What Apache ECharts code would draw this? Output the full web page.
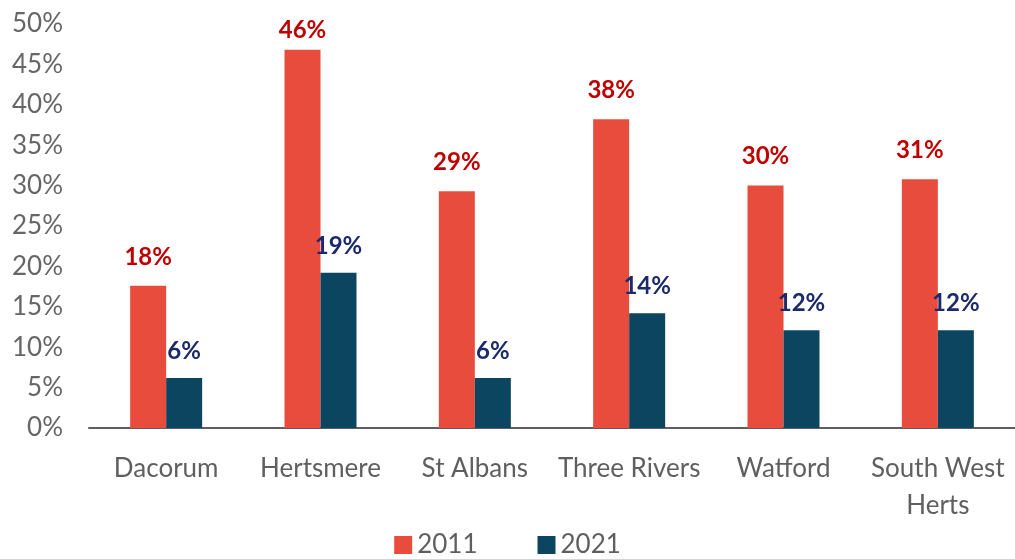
<!DOCTYPE html>
<html>
<head>
<meta charset="utf-8">
<script src="https://cdn.jsdelivr.net/npm/echarts@6/dist/echarts.min.js"></script>
<style>
  html, body { margin: 0; padding: 0; background: #fff; }
  #chart { width: 1015px; height: 559px; }
</style>
</head>
<body>
<div id="chart"></div>
<script>
var districts = ['Dacorum', 'Hertsmere', 'St Albans', 'Three Rivers', 'Watford', 'South West\nHerts'];
var values2011 = [17.6, 46.8, 29.3, 38.2, 30.0, 30.8];
var values2021 = [6.2, 19.2, 6.2, 14.2, 12.1, 12.1];
var labels2011 = ['18%', '46%', '29%', '38%', '30%', '31%'];
var labels2021 = ['6%', '19%', '6%', '14%', '12%', '12%'];
var yTicks = [0, 5, 10, 15, 20, 25, 30, 35, 40, 45, 50];

var chart = echarts.init(document.getElementById('chart'), null, { renderer: 'canvas' });

var fontFam = 'Lato, "Open Sans", sans-serif';

// the tallest bar's label sits a bit closer, it would run off the top otherwise
var data2011 = values2011.map(function (v, i) {
  return i === 1 ? { value: v, label: { distance: 8 } } : v;
});

chart.setOption({
  animation: false,
  textStyle: { fontFamily: fontFam },
  grid: { left: 89, right: 0, top: 24, bottom: 131 },
  legend: {
    bottom: -4,
    left: 'center',
    itemWidth: 18,
    itemHeight: 18,
    itemGap: 60,
    icon: 'rect',
    textStyle: { fontSize: 26, color: '#5f5f5f', fontFamily: fontFam },
    data: ['2011', '2021']
  },
  xAxis: {
    type: 'category',
    data: districts,
    axisTick: { show: false },
    axisLine: { lineStyle: { color: '#5f5f5f', width: 2 } },
    axisLabel: {
      color: '#5f5f5f',
      fontSize: 26,
      margin: 22,
      lineHeight: 37,
      interval: 0
    }
  },
  yAxis: {
    type: 'value',
    min: yTicks[0],
    max: yTicks[yTicks.length - 1],
    interval: 5,
    splitLine: { show: false },
    axisLine: { show: false },
    axisTick: { show: false },
    axisLabel: {
      color: '#666666',
      fontSize: 26,
      margin: 26,
      formatter: function (v) { return v + '%'; }
    }
  },
  series: [
    {
      name: '2011',
      type: 'bar',
      data: data2011,
      barWidth: 36,
      barGap: '0%',
      itemStyle: { color: '#E84C3D' },
      label: {
        show: true,
        position: 'top',
        distance: 17,
        color: '#C00000',
        fontWeight: 'bold',
        fontSize: 24,
        formatter: function (p) { return labels2011[p.dataIndex]; }
      }
    },
    {
      name: '2021',
      type: 'bar',
      data: values2021,
      barWidth: 36,
      itemStyle: { color: '#0B4560' },
      label: {
        show: true,
        position: 'top',
        distance: 15,
        color: '#1B2A6B',
        fontWeight: 'bold',
        fontSize: 24,
        formatter: function (p) { return labels2021[p.dataIndex]; }
      }
    }
  ]
});
</script>
</body>
</html>
